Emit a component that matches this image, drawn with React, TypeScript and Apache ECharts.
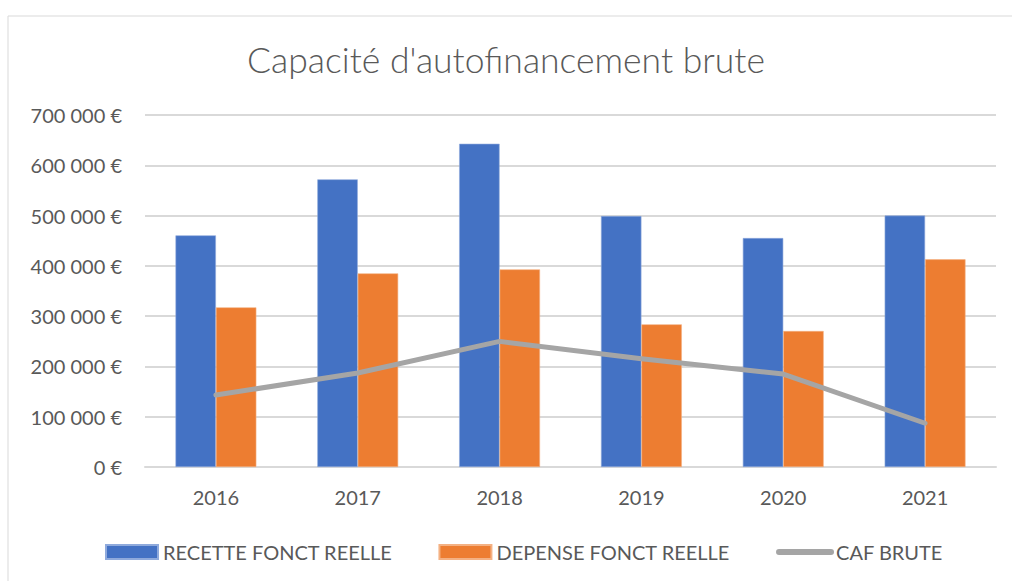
import React, { useEffect, useRef } from "react";
import * as echarts from "echarts";

const years = ["2016", "2017", "2018", "2019", "2020", "2021"];
const recette = [460600, 572000, 642800, 499000, 455300, 500000];
const depense = [317500, 385000, 393000, 283700, 270400, 413000];
const cafBrute = [143100, 187000, 249800, 215300, 184900, 87000];
const seriesNames = ["RECETTE FONCT REELLE", "DEPENSE FONCT REELLE", "CAF BRUTE"];

const FONT = "Lato, 'Liberation Sans', sans-serif";
const TXT = "#595959";

function fmt(v: number): string {
  const s = Math.round(v).toString().replace(/\B(?=(\d{3})+(?!\d))/g, " ");
  return s + " €";
}

export default function App() {
  const ref = useRef<HTMLDivElement>(null);
  useEffect(() => {
    if (!ref.current) return;
    const chart = echarts.init(ref.current, undefined, { renderer: "svg" });
    chart.setOption({
      animation: false,
      backgroundColor: "#ffffff",
      textStyle: { fontFamily: FONT },
      title: {
        text: "Capacité d'autofinancement brute",
        left: "center",
        top: 36,
        textStyle: { fontFamily: FONT, fontSize: 35.5, fontWeight: 300, color: TXT },
      },
      graphic: [
        {
          type: "rect",
          shape: { x: 8, y: 16, width: 1020, height: 600 },
          style: { fill: "none", stroke: "#d9d9d9", lineWidth: 1 },
          silent: true,
          z: -10,
        },
      ],
      grid: { left: 145, right: 16, top: 115, bottom: 114, containLabel: false },
      legend: {
        left: 100,
        top: 537,
        itemWidth: 52,
        itemHeight: 14,
        itemGap: 46,
        textStyle: { fontFamily: FONT, fontSize: 20, color: TXT },
        data: [
          { name: seriesNames[0], icon: "rect" },
          { name: seriesNames[1], icon: "rect" },
          {
            name: seriesNames[2],
            itemStyle: { color: "rgba(0,0,0,0)", borderWidth: 0, opacity: 0 },
            lineStyle: { color: "#a5a5a5", width: 6, cap: "round" },
          },
        ],
      },
      xAxis: {
        type: "category",
        data: years,
        axisLine: { show: true, lineStyle: { color: "#d9d9d9", width: 2 } },
        axisTick: { show: false },
        axisLabel: { color: TXT, fontSize: 20, fontFamily: FONT, margin: 20 },
      },
      yAxis: {
        type: "value",
        min: 0,
        max: 700000,
        interval: 100000,
        axisLine: { show: false },
        axisTick: { show: false },
        splitLine: { lineStyle: { color: "#d9d9d9", width: 2 } },
        axisLabel: {
          color: TXT,
          fontSize: 20,
          fontFamily: FONT,
          margin: 23,
          formatter: (v: number) => fmt(v),
        },
      },
      series: [
        {
          name: seriesNames[0],
          type: "bar",
          data: recette,
          barGap: "0%",
          barCategoryGap: "43%",
          itemStyle: { color: "#4472c4", borderColor: "#8faadc", borderWidth: 0.6 },
        },
        {
          name: seriesNames[1],
          type: "bar",
          data: depense,
          barGap: "0%",
          barCategoryGap: "43%",
          itemStyle: { color: "#ed7d31", borderColor: "#f4b183", borderWidth: 0.6 },
        },
        {
          name: seriesNames[2],
          type: "line",
          data: cafBrute,
          symbol: "none",
          showSymbol: false,
          lineStyle: { color: "#a5a5a5", width: 5, cap: "round", join: "round" },
          itemStyle: { color: "#a5a5a5" },
          z: 5,
        },
      ],
    });
    return () => chart.dispose();
  }, []);
  return (
    <div
      ref={ref}
      style={{ position: "fixed", left: 0, top: 0, width: 1012, height: 581 }}
    />
  );
}
